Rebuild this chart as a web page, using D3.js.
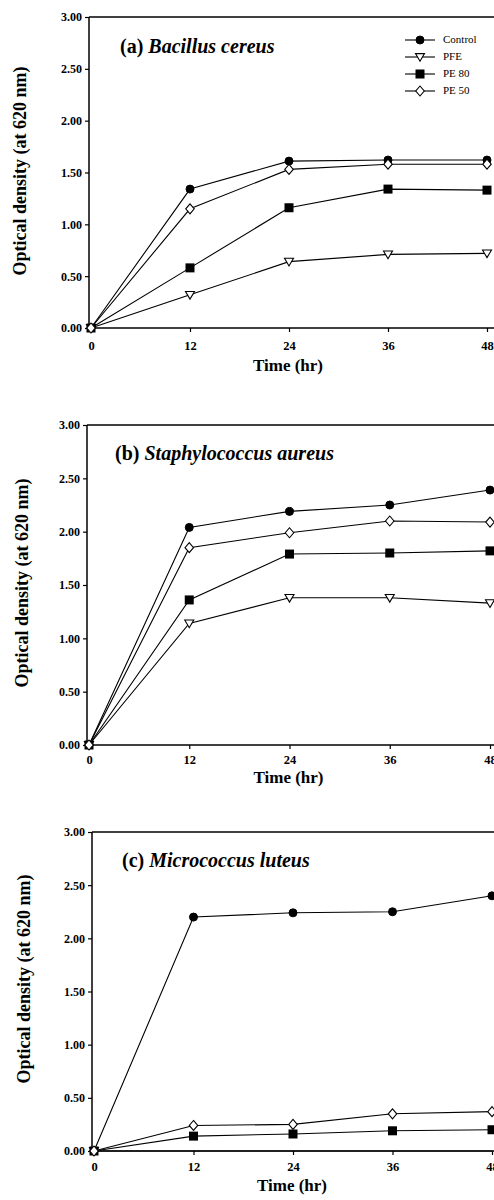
<!DOCTYPE html>
<html>
<head>
<meta charset="utf-8">
<script src="https://cdn.jsdelivr.net/npm/d3@7"></script>
<style>
  html, body { margin: 0; padding: 0; background: #fff; }
  svg { display: block; }
  text { font-family: "Liberation Serif", "Times New Roman", serif; fill: #000; }
</style>
</head>
<body>
<svg id="chart" width="494" height="1200"></svg>
<script>
// ---- data ----
const hours = [0, 12, 24, 36, 48];
const xTicks = [0, 12, 24, 36, 48];
const yTicks = [0, 0.5, 1, 1.5, 2, 2.5, 3];
const seriesNames = ["Control", "PFE", "PE 80", "PE 50"];
const panelTitles = ["(a) ", "(b) ", "(c) "];
const organisms = ["Bacillus cereus", "Staphylococcus aureus", "Micrococcus luteus"];
const xAxisTitle = "Time (hr)";
const yAxisTitle = "Optical density (at 620 nm)";

// (a) Bacillus cereus
const bacillusControl = [0, 1.34, 1.61, 1.62, 1.62];
const bacillusPFE     = [0, 0.32, 0.64, 0.71, 0.72];
const bacillusPE80    = [0, 0.58, 1.16, 1.34, 1.33];
const bacillusPE50    = [0, 1.15, 1.53, 1.58, 1.58];
// (b) Staphylococcus aureus
const staphControl = [0, 2.04, 2.19, 2.25, 2.39];
const staphPFE     = [0, 1.14, 1.38, 1.38, 1.33];
const staphPE80    = [0, 1.36, 1.79, 1.80, 1.82];
const staphPE50    = [0, 1.85, 1.99, 2.10, 2.09];
// (c) Micrococcus luteus
const microControl = [0, 2.20, 2.24, 2.25, 2.40];
const microPFE     = [0, 0, 0, 0, 0];
const microPE80    = [0, 0.14, 0.16, 0.19, 0.20];
const microPE50    = [0, 0.24, 0.25, 0.35, 0.37];

const panelData = [
  [bacillusControl, bacillusPFE, bacillusPE80, bacillusPE50],
  [staphControl, staphPFE, staphPE80, staphPE50],
  [microControl, microPFE, microPE80, microPE50]
];

// ---- layout (positions only) ----
const layouts = [
  { axisX: 89, x0: 91, x1: 487, yTop: 17, yBot: 328, tickLabY: 346, xTitleY: 367, yTitleX: 22, yTitleCY: 171, titleX: 120, titleY: 53, legend: true },
  { axisX: 87, x0: 89, x1: 490, yTop: 425, yBot: 745, tickLabY: 760, xTitleY: 779, yTitleX: 24, yTitleCY: 583, titleX: 115, titleY: 460, legend: false },
  { axisX: 92, x0: 94, x1: 492, yTop: 832, yBot: 1151, tickLabY: 1167, xTitleY: 1187, yTitleX: 26, yTitleCY: 979, titleX: 122, titleY: 867, legend: false }
];

const svg = d3.select("#chart");
const W = 494;

function drawMarker(g, type, cx, cy) {
  if (type === 0) {
    g.append("circle").attr("cx", cx).attr("cy", cy).attr("r", 4)
      .attr("fill", "#000").attr("stroke", "#000").attr("stroke-width", 1);
  } else if (type === 1) {
    const s = 4.5;
    g.append("path")
      .attr("d", `M${cx - s},${cy - s * 0.75} L${cx + s},${cy - s * 0.75} L${cx},${cy + s * 0.95} Z`)
      .attr("fill", "#fff").attr("stroke", "#000").attr("stroke-width", 1.1);
  } else if (type === 2) {
    const s = 4.5;
    g.append("rect").attr("x", cx - s).attr("y", cy - s).attr("width", 2 * s).attr("height", 2 * s)
      .attr("fill", "#000");
  } else {
    const s = 5;
    g.append("path")
      .attr("d", `M${cx},${cy - s} L${cx + s * 0.85},${cy} L${cx},${cy + s} L${cx - s * 0.85},${cy} Z`)
      .attr("fill", "#fff").attr("stroke", "#000").attr("stroke-width", 1.1);
  }
}

layouts.forEach((L, pi) => {
  const g = svg.append("g");
  const x = d3.scaleLinear().domain([0, 48]).range([L.x0, L.x1]);
  const y = d3.scaleLinear().domain([0, 3]).range([L.yBot, L.yTop]);

  // frame: top line
  g.append("line").attr("x1", L.axisX).attr("x2", W).attr("y1", L.yTop).attr("y2", L.yTop)
    .attr("stroke", "#000").attr("stroke-width", 1.5);

  // y axis
  const yAxis = d3.axisLeft(y).tickValues(yTicks).tickFormat(d3.format(".2f")).tickSize(4).tickSizeOuter(0);
  const ya = g.append("g").attr("transform", `translate(${L.axisX},0)`).call(yAxis);
  ya.select(".domain").attr("stroke-width", 1.5).attr("d", `M0,${L.yTop}V${L.yBot}`);
  ya.selectAll(".tick line").attr("stroke-width", 1.2);
  ya.selectAll(".tick text").attr("font-size", 12).attr("font-weight", "bold")
    .attr("font-family", "Liberation Serif, serif").attr("x", -7);

  // x axis
  const xAxis = d3.axisBottom(x).tickValues(xTicks).tickFormat(d3.format("d")).tickSize(4).tickSizeOuter(0);
  const xa = g.append("g").attr("transform", `translate(0,${L.yBot})`).call(xAxis);
  xa.select(".domain").attr("stroke-width", 1.5).attr("d", `M${L.axisX},0H${W}`);
  xa.selectAll(".tick line").attr("stroke-width", 1.2);
  xa.selectAll(".tick text").attr("font-size", 12.5).attr("font-weight", "bold")
    .attr("font-family", "Liberation Serif, serif")
    .attr("y", L.tickLabY - L.yBot).attr("dy", "0.35em");

  // axis titles
  g.append("text").attr("x", (L.x0 + L.x1) / 2 - 1).attr("y", L.xTitleY)
    .attr("text-anchor", "middle").attr("dominant-baseline", "middle")
    .attr("font-size", 17).attr("font-weight", "bold").text(xAxisTitle);
  g.append("text")
    .attr("transform", `translate(${L.yTitleX},${L.yTitleCY}) rotate(-90)`)
    .attr("text-anchor", "middle").attr("dominant-baseline", "middle")
    .attr("font-size", 18).attr("font-weight", "bold").text(yAxisTitle);

  // panel title
  const t = g.append("text").attr("x", L.titleX).attr("y", L.titleY)
    .attr("font-size", 20).attr("font-weight", "bold");
  t.append("tspan").text(panelTitles[pi]);
  t.append("tspan").attr("font-style", "italic").text(organisms[pi]);

  // lines
  const line = d3.line().x(d => x(d[0])).y(d => y(d[1]));
  const series = panelData[pi];
  series.forEach((vals) => {
    const pts = hours.map((h, i) => [h, vals[i]]);
    g.append("path").datum(pts).attr("d", line)
      .attr("fill", "none").attr("stroke", "#000").attr("stroke-width", 1.1);
  });
  // markers
  series.forEach((vals, si) => {
    hours.forEach((h, i) => {
      if (i > 0 && vals[i] === 0) return; // hidden on axis
      drawMarker(g, si, x(h), y(vals[i]));
    });
  });

  // legend
  if (L.legend) {
    const lg = g.append("g");
    seriesNames.forEach((name, si) => {
      const ly = 40 + si * 17;
      lg.append("line").attr("x1", 405).attr("x2", 435).attr("y1", ly).attr("y2", ly)
        .attr("stroke", "#000").attr("stroke-width", 1.1);
      drawMarker(lg, si, 420, ly);
      lg.append("text").attr("x", 443).attr("y", ly).attr("dominant-baseline", "middle")
        .attr("font-size", 11).text(name);
    });
  }
});
</script>
</body>
</html>
